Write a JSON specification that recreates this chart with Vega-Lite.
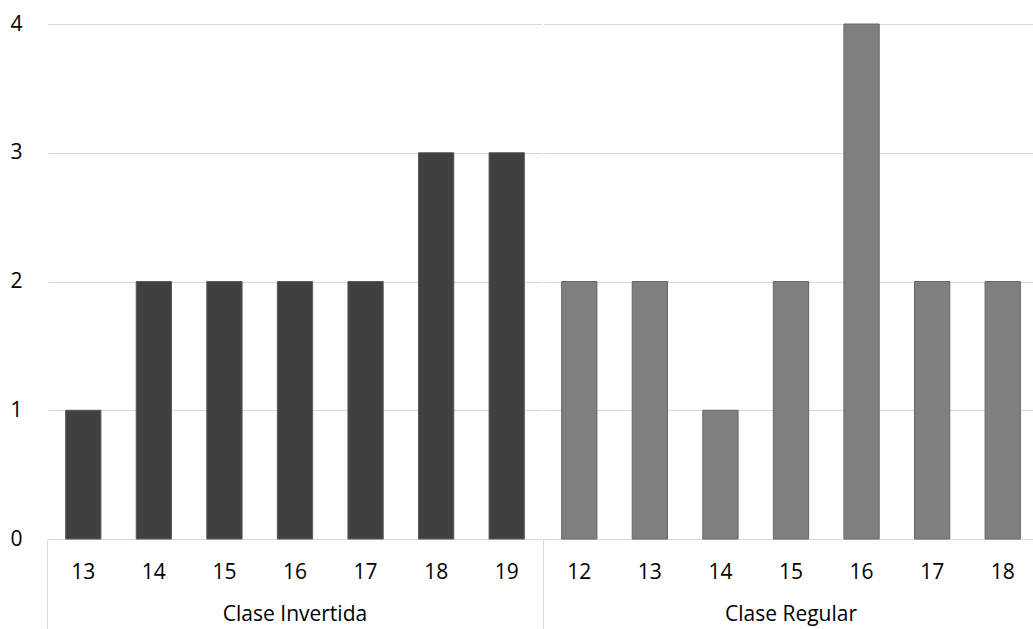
{
  "$schema": "https://vega.github.io/schema/vega-lite/v6.json",
  "padding": {"left": 9, "top": 13, "right": 0, "bottom": 0},
  "background": "white",
  "data": {"values": [
    {"grupo": "Clase Invertida", "nota": 13, "n": 1},
    {"grupo": "Clase Invertida", "nota": 14, "n": 2},
    {"grupo": "Clase Invertida", "nota": 15, "n": 2},
    {"grupo": "Clase Invertida", "nota": 16, "n": 2},
    {"grupo": "Clase Invertida", "nota": 17, "n": 2},
    {"grupo": "Clase Invertida", "nota": 18, "n": 3},
    {"grupo": "Clase Invertida", "nota": 19, "n": 3},
    {"grupo": "Clase Regular", "nota": 12, "n": 2},
    {"grupo": "Clase Regular", "nota": 13, "n": 2},
    {"grupo": "Clase Regular", "nota": 14, "n": 1},
    {"grupo": "Clase Regular", "nota": 15, "n": 2},
    {"grupo": "Clase Regular", "nota": 16, "n": 4},
    {"grupo": "Clase Regular", "nota": 17, "n": 2},
    {"grupo": "Clase Regular", "nota": 18, "n": 2}
  ]},
  "facet": {
    "column": {
      "field": "grupo", "type": "nominal", "title": null,
      "sort": ["Clase Invertida", "Clase Regular"],
      "header": {"labelOrient": "bottom", "labelFont": "Open Sans", "labelFontSize": 21, "labelColor": "#000000", "labelPadding": -26}
    }
  },
  "spacing": 0,
  "resolve": {"scale": {"x": "independent"}},
  "spec": {
    "width": 494,
    "height": 515,
    "mark": {"type": "bar", "strokeWidth": 1},
    "encoding": {
      "x": {
        "field": "nota", "type": "ordinal",
        "scale": {"paddingInner": 0.5, "paddingOuter": 0.25},
        "axis": {
          "title": null, "labelAngle": 0, "labelFont": "Open Sans", "labelFontSize": 21, "labelColor": "#000000",
          "domainColor": "#d9d9d9", "domainWidth": 1,
          "ticks": true, "tickSize": 90, "tickColor": "#d9d9d9", "tickWidth": 1, "bandPosition": -0.5,
          "tickOpacity": {"condition": {"test": "datum.index === 0", "value": 1}, "value": 0},
          "labelPadding": -68
        }
      },
      "y": {
        "field": "n", "type": "quantitative",
        "scale": {"domain": [0, 4], "nice": false},
        "axis": {
          "title": null, "values": [0, 1, 2, 3, 4], "grid": true, "gridColor": "#d9d9d9", "gridWidth": 1,
          "domain": false, "ticks": false, "labelFont": "Open Sans", "labelFontSize": 21, "labelColor": "#000000", "labelPadding": 24
        }
      },
      "color": {"field": "grupo", "type": "nominal", "legend": null, "scale": {"domain": ["Clase Invertida", "Clase Regular"], "range": ["#404040", "#7f7f7f"]}},
      "stroke": {"field": "grupo", "type": "nominal", "legend": null, "scale": {"domain": ["Clase Invertida", "Clase Regular"], "range": ["#5a5a5a", "#666666"]}}
    }
  },
  "config": {"view": {"stroke": null}, "font": "Open Sans"}
}
